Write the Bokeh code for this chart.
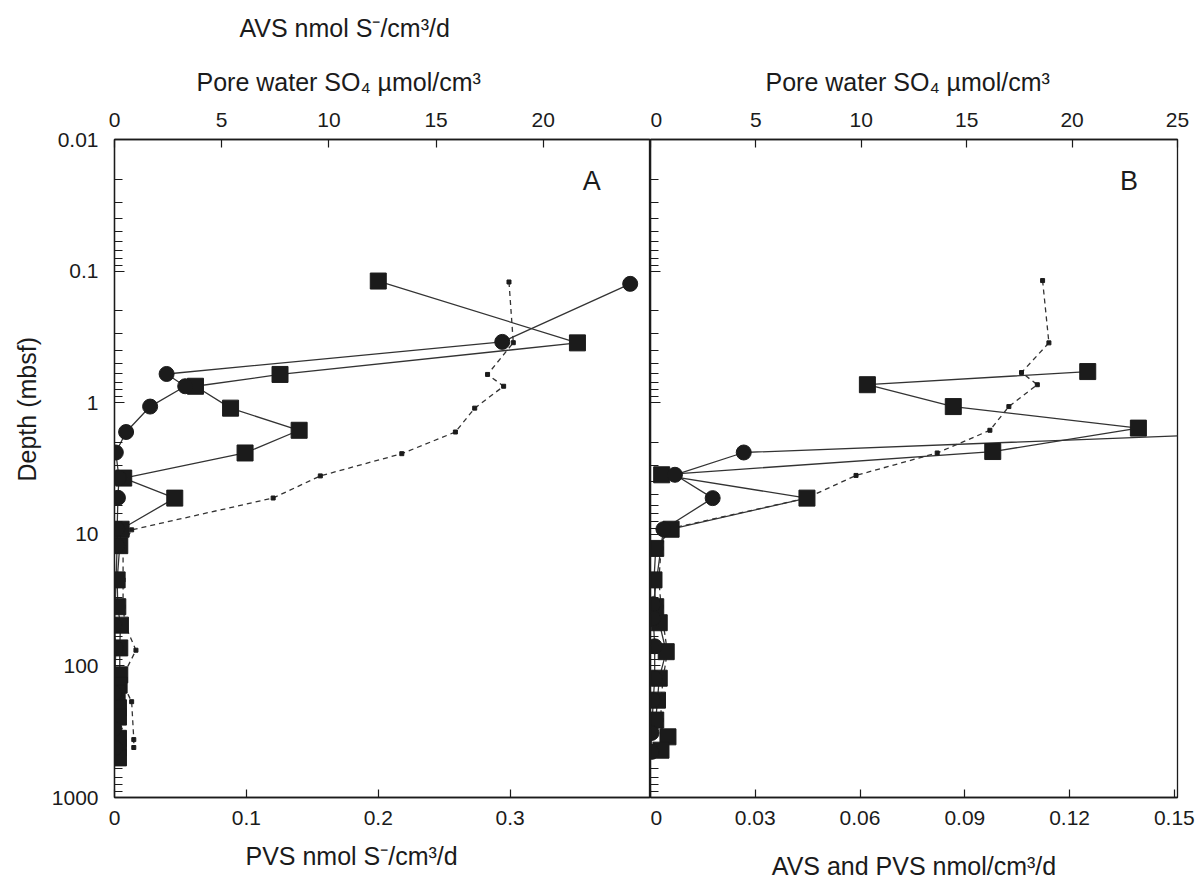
from bokeh.plotting import figure
from bokeh.models import Range1d, LinearAxis, FixedTicker, Label, Title, CustomJSTickFormatter
from bokeh.layouts import row
from bokeh.embed import file_html
from bokeh.resources import INLINE

# ---------------- data ----------------
# Panel A : PVS (squares, bottom axis, nmol S-/cm3/d)
a_pvs_depth = [0.119, 0.351, 0.61, 0.75, 1.10, 1.62, 2.41, 3.74, 5.31, 9.15,
               12.2, 22.2, 35.5, 49, 73, 117, 140, 161, 208, 245, 355, 420, 500]
a_pvs = [0.200, 0.351, 0.1255, 0.0614, 0.088, 0.140, 0.099, 0.007, 0.0457, 0.005,
         0.004, 0.002, 0.0025, 0.0045, 0.004, 0.004, 0.0035, 0.002, 0.003, 0.003, 0.003, 0.003, 0.003]
# Panel A : AVS (circles)
a_avs_depth = [0.125, 0.345, 0.605, 0.75, 1.07, 1.67, 2.39, 3.72, 5.28, 9.1,
               12.2, 49, 73, 161, 300, 420]
a_avs = [0.391, 0.294, 0.0395, 0.0536, 0.027, 0.0088, 0.001, 0.0034, 0.0026, 0.002,
         0.002, 0.0, 0.001, 0.0, 0.0, 0.0005]
# Panel A : pore water SO4 (small dots, dashed, top axis umol/cm3)
a_so4_depth = [0.121, 0.35, 0.61, 0.75, 1.10, 1.67, 2.44, 3.6, 5.3, 9.25,
               12.2, 22.2, 35.5, 49, 76, 128, 187, 363, 417]
a_so4 = [18.4, 18.6, 17.4, 18.15, 16.8, 15.9, 13.4, 9.6, 7.4, 0.8,
         0.4, 0.4, 0.4, 0.5, 1.0, 0.3, 0.8, 0.9, 0.9]

# Panel B : PVS (squares)
b_pvs_depth = [0.58, 0.73, 1.07, 1.56, 2.35, 3.53, 5.31, 9.15, 12.8, 22.2,
               35.5, 47, 78, 124, 182, 258, 346, 437]
b_pvs = [0.1252, 0.0621, 0.0867, 0.1397, 0.098, 0.0032, 0.0448, 0.0059, 0.0015, 0.001,
         0.0015, 0.0025, 0.0045, 0.0025, 0.002, 0.0015, 0.005, 0.003]
# Panel B : AVS (circles)
b_avs_depth = [1.75, 2.39, 3.53, 5.31, 9.15, 34, 43.5, 71, 124, 182, 323, 450]
b_avs = [0.16, 0.0267, 0.007, 0.0178, 0.0037, 0.0008, 0.0008, 0.0012, 0.0012, 0.0008, 0.0003, 0.0003]
# Panel B : pore water SO4
b_so4_depth = [0.118, 0.351, 0.59, 0.73, 1.07, 1.62, 2.41, 3.57, 5.31, 9.15,
               12.8, 22.2, 35.5, 47, 78, 124, 182, 258, 346, 437]
b_so4 = [18.6, 18.9, 17.6, 18.35, 17.0, 16.1, 13.6, 9.75, 7.4, 0.8,
         0.5, 0.4, 0.5, 0.6, 0.8, 0.6, 0.5, 0.5, 0.6, 0.5]

# ticks
depth_ticks = [0.01, 0.1, 1, 10, 100, 1000]
a_bottom_ticks = [0, 0.1, 0.2, 0.3]
b_bottom_ticks = [0, 0.03, 0.06, 0.09, 0.12, 0.15]
a_top_ticks = [0, 5, 10, 15, 20]
b_top_ticks = [0, 5, 10, 15, 20, 25]

# ---------------- style ----------------
FONT = "Liberation Sans"
INK = "#1b1b1b"
TICK_FS = "21px"
TITLE_FS = "25px"
H = 884
TOP = 139
BOTTOM = 87

minor_depth = [m * 10 ** e for e in range(-2, 3) for m in range(2, 10)]
fmt = CustomJSTickFormatter(code="return String(Number(tick.toPrecision(6)));")


def style_axis(ax, tick_in=8):
    ax.axis_line_color = INK
    ax.axis_line_width = 1.3
    ax.major_tick_line_color = INK
    ax.major_tick_line_width = 1.2
    ax.minor_tick_line_color = INK
    ax.minor_tick_line_width = 1.1
    ax.major_tick_in = tick_in
    ax.major_tick_out = 0
    ax.minor_tick_in = 8
    ax.minor_tick_out = 0
    ax.major_label_text_font = FONT
    ax.major_label_text_font_size = TICK_FS
    ax.major_label_text_color = INK
    ax.axis_label_text_font = FONT
    ax.axis_label_text_font_size = TITLE_FS
    ax.axis_label_text_font_style = "normal"
    ax.axis_label_text_color = INK


def make_panel(width, min_left, min_right, xmax, bottom_ticks, top_ticks, show_y_labels):
    p = figure(width=width, height=H, y_axis_type="log",
               x_range=Range1d(0, xmax), y_range=Range1d(1000, 0.01),
               output_backend="svg", toolbar_location=None,
               min_border_left=min_left, min_border_right=min_right,
               min_border_top=TOP, min_border_bottom=BOTTOM)
    p.extra_x_ranges = {"so4": Range1d(0, 25)}
    p.grid.visible = False
    p.outline_line_color = INK
    p.outline_line_width = 1.3
    p.background_fill_color = "white"
    p.border_fill_color = "white"

    xa = p.below[0]
    xa.ticker = FixedTicker(ticks=bottom_ticks, minor_ticks=[])
    xa.formatter = fmt
    style_axis(xa)
    xa.major_label_standoff = 13

    ya = p.left[0]
    ya.ticker = FixedTicker(ticks=depth_ticks, minor_ticks=minor_depth)
    style_axis(ya, tick_in=10)
    if show_y_labels:
        ya.formatter = fmt
        ya.major_label_standoff = 16
    else:
        ya.formatter = CustomJSTickFormatter(code="return '';")
        ya.major_label_standoff = 0

    top = LinearAxis(x_range_name="so4",
                     ticker=FixedTicker(ticks=top_ticks, minor_ticks=[]),
                     formatter=fmt)
    style_axis(top)
    top.major_label_standoff = 13
    p.add_layout(top, "above")
    return p, xa


def draw(p, pvs_d, pvs, avs_d, avs, so4_d, so4):
    p.line(so4, so4_d, x_range_name="so4", line_color="#333333",
           line_width=1.3, line_dash="5 4")
    p.line(pvs, pvs_d, line_color="#333333", line_width=1.3)
    p.line(avs, avs_d, line_color="#333333", line_width=1.3)
    p.scatter(so4, so4_d, x_range_name="so4", marker="square", size=4,
              fill_color=INK, line_color=INK)
    p.scatter(pvs, pvs_d, marker="square", size=16, fill_color=INK, line_color=INK)
    p.scatter(avs, avs_d, marker="circle", size=15, fill_color=INK, line_color=INK)


def side_title(p, side, s, offset, standoff, align="left", valign="bottom"):
    p.add_layout(Title(text=s, align=align, offset=offset, standoff=standoff,
                       vertical_align=valign,
                       text_font=FONT, text_font_size=TITLE_FS,
                       text_font_style="normal", text_color=INK), side)


def data_text(p, x, y, s, size="27px"):
    p.add_layout(Label(x=x, y=y, text=s, text_font=FONT, text_font_size=size,
                       text_color=INK, text_align="center", text_baseline="middle"))


# Panel A
pa, pa_bottom = make_panel(650, 114, 0, 0.4064, a_bottom_ticks, a_top_ticks, True)
draw(pa, a_pvs_depth, a_pvs, a_avs_depth, a_avs, a_so4_depth, a_so4)
side_title(pa, "above", "Pore water SO\u2084 \u00b5mol/cm\u00b3", 82, 27)
side_title(pa, "above", "AVS nmol S\u207b/cm\u00b3/d", 125, 21)
side_title(pa, "below", "PVS nmol S\u207b/cm\u00b3/d", 131, 24)
side_title(pa, "left", "Depth (mbsf)", 316, 16)
data_text(pa, 0.3619, 0.0208, "A")

# Panel B
pb, pb_bottom = make_panel(545, 0, 18, 0.1509, b_bottom_ticks, b_top_ticks, False)
draw(pb, b_pvs_depth, b_pvs, b_avs_depth, b_avs, b_so4_depth, b_so4)
side_title(pb, "above", "Pore water SO\u2084 \u00b5mol/cm\u00b3", 115, 27)
pb_bottom.axis_label = "AVS and PVS nmol/cm\u00b3/d"
pb_bottom.axis_label_standoff = 24
data_text(pb, 0.1370, 0.0208, "B")

layout = row(pa, pb)
open("out.html", "w").write(file_html(layout, INLINE))
